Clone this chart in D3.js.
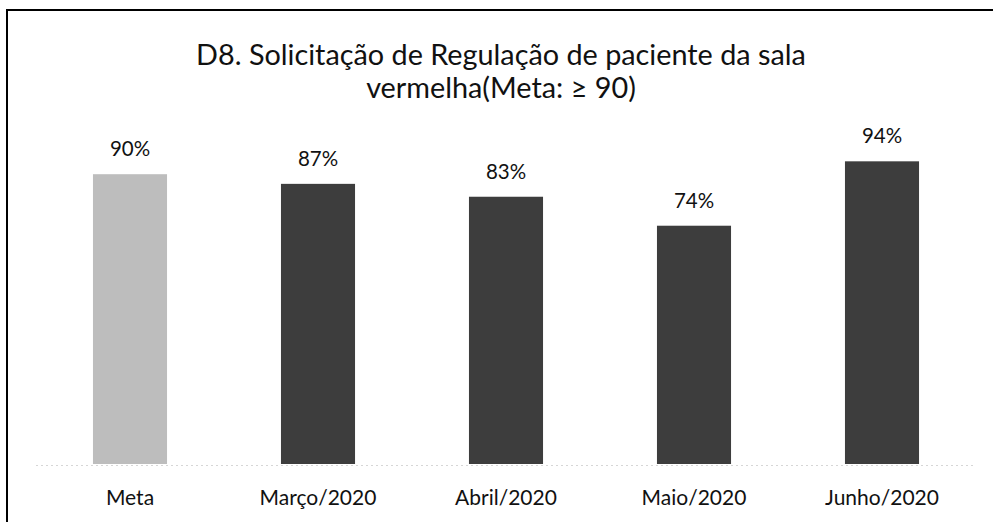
<!DOCTYPE html>
<html>
<head>
<meta charset="utf-8">
<script src="https://cdn.jsdelivr.net/npm/d3@7"></script>
<style>
  body { margin: 0; background: #fff; }
  svg { display: block; }
  text { font-family: Lato, "Open Sans", sans-serif; fill: #111; }
</style>
</head>
<body>
<div id="chart"></div>
<script>
var titleLines = ["D8. Solicitação de Regulação de paciente da sala", "vermelha(Meta: ≥ 90)"];
var categories = ["Meta", "Março/2020", "Abril/2020", "Maio/2020", "Junho/2020"];
var values = [90, 87, 83, 74, 94];
var labels = ["90%", "87%", "83%", "74%", "94%"];

var width = 993;
var height = 522;

var svg = d3.select("#chart")
    .append("svg")
    .attr("width", width)
    .attr("height", height);

// frame (only top and left edges show in the scan)
svg.append("rect")
    .attr("x", 7)
    .attr("y", 10)
    .attr("width", 1000)
    .attr("height", 540)
    .attr("fill", "none")
    .attr("stroke", "#000")
    .attr("stroke-width", 2);

var x = d3.scaleBand()
    .domain(categories)
    .range([36, 976])
    .paddingInner(0.606)
    .paddingOuter(0.303);

var y = d3.scaleLinear()
    .domain([0, 100])
    .range([464, 142]);

svg.append("line")
    .attr("x1", 36)
    .attr("x2", 976)
    .attr("y1", y(0) + 1.5)
    .attr("y2", y(0) + 1.5)
    .attr("stroke", "#d6d6d6")
    .attr("stroke-width", 1)
    .attr("stroke-dasharray", "2,3");

svg.selectAll("text.title")
    .data(titleLines)
    .enter()
    .append("text")
    .attr("class", "title")
    .attr("x", 501)
    .attr("y", function(d, i) { return 65 + i * 33; })
    .attr("text-anchor", "middle")
    .attr("font-size", 28.8)
    .text(function(d) { return d; });

svg.selectAll("text.val")
    .data(values)
    .enter()
    .append("text")
    .attr("class", "val")
    .attr("x", function(d, i) { return x(categories[i]) + x.bandwidth() / 2; })
    .attr("y", function(d) { return y(d) - 18; })
    .attr("text-anchor", "middle")
    .attr("font-size", 20.5)
    .text(function(d, i) { return labels[i]; });

svg.selectAll("rect.bar")
    .data(values)
    .enter()
    .append("rect")
    .attr("class", "bar")
    .attr("x", function(d, i) { return x(categories[i]); })
    .attr("y", function(d) { return y(d); })
    .attr("width", x.bandwidth())
    .attr("height", function(d) { return y(0) - y(d); })
    .attr("fill", function(d, i) { return i == 0 ? "#bdbdbd" : "#3d3d3d"; });

var xAxis = svg.append("g")
    .attr("transform", "translate(0," + y(0) + ")")
    .call(d3.axisBottom(x).tickSize(0).tickPadding(26));
xAxis.select(".domain").remove();
xAxis.selectAll("text")
    .attr("font-size", 21)
    .attr("font-family", "Lato, 'Open Sans', sans-serif")
    .attr("fill", "#111");
</script>
</body>
</html>
